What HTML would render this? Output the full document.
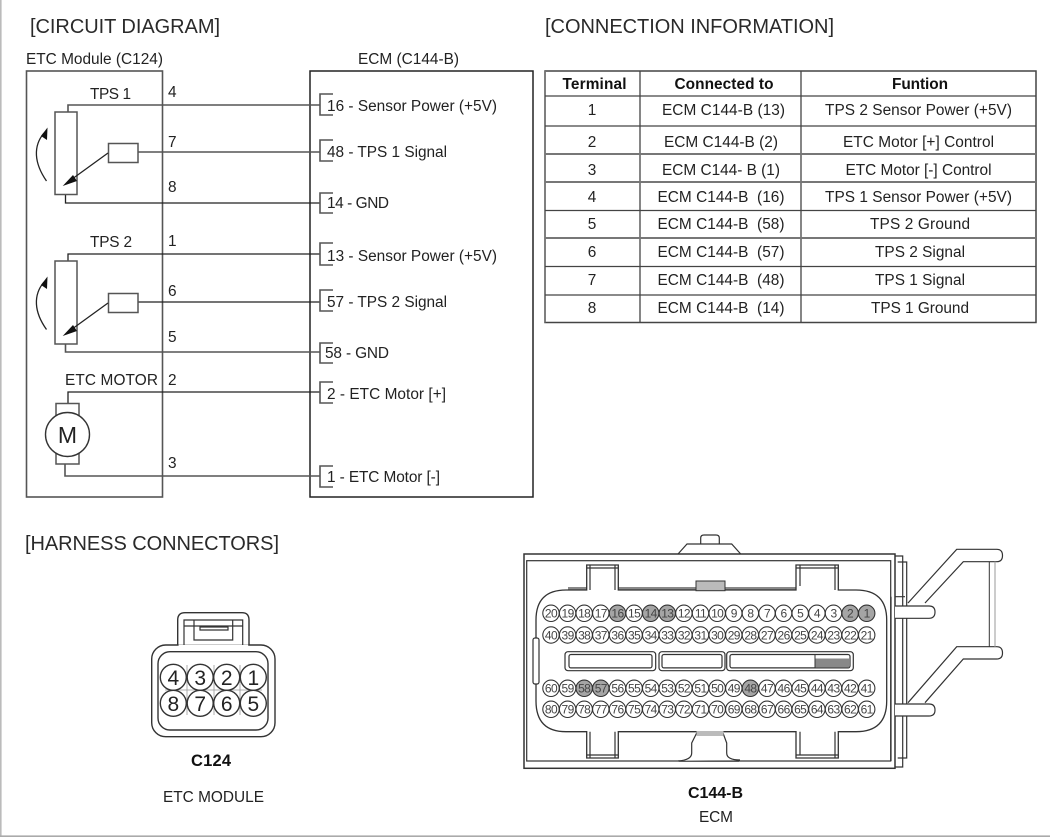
<!DOCTYPE html>
<html lang="en">
<head>
<meta charset="utf-8">
<title>ETC Circuit Diagram</title>
<style>
html,body{margin:0;padding:0;background:#fff;width:1050px;height:837px;overflow:hidden}
svg{display:block;filter:blur(.35px)}
text{font-family:"Liberation Sans",Arial,sans-serif;fill:#222}
.t{font-size:15.4px}
.h{font-size:20px;fill:#2a2a2a}
.c{text-anchor:middle}
.b{font-weight:bold;fill:#111}
.w{fill:none;stroke:#222;stroke-width:1.3}
.g{fill:none;stroke:#555;stroke-width:1.6}
.s{fill:#fff;stroke:#555;stroke-width:1.5}
.p circle{fill:#fff;stroke:#333;stroke-width:1.1}
.p circle.d{fill:#a5a5a5}
.p text{font-size:12px;letter-spacing:-.6px;text-anchor:middle;fill:#444;transform:translateY(.6px)}
.cn{fill:none;stroke:#333;stroke-width:1.2}
.cf{fill:#fff;stroke:#333;stroke-width:1.2}
</style>
</head>
<body>
<svg width="1050" height="837" viewBox="0 0 1050 837" xmlns="http://www.w3.org/2000/svg">
<rect x="0" y="0" width="1.6" height="837" fill="#bbb"/>
<rect x="0" y="835.4" width="1050" height="1.6" fill="#aaa"/>

<text class="h" x="30" y="33" textLength="190">[CIRCUIT DIAGRAM]</text>
<text class="h" x="545" y="33" textLength="289">[CONNECTION INFORMATION]</text>
<text class="h" x="25" y="550" textLength="254">[HARNESS CONNECTORS]</text>

<text class="t" x="26" y="64" textLength="137">ETC Module (C124)</text>
<text class="t" x="358" y="64" textLength="101">ECM (C144-B)</text>

<rect x="26.5" y="71" width="136" height="426" class="g" stroke="#444"/>
<rect x="310" y="71" width="223" height="426" class="w" style="stroke-width:1.5"/>

<!-- wires -->
<path class="g" d="M68 112V105H320"/>
<path class="w" d="M65.5 195V203H320"/>
<path class="g" d="M138 152H320"/>
<path class="w" d="M68 261V254H320"/>
<path class="g" d="M65.5 344V352H320"/>
<path class="w" d="M138 302H320"/>
<path class="w" d="M68 403V392H320"/>
<path class="g" d="M65 464V476H320"/>

<!-- ECM brackets -->
<g class="g">
<path d="M333 94H320V115H333"/>
<path d="M333 140H320V161H333"/>
<path d="M333 193H320V213H333"/>
<path d="M333 243H320V265H333"/>
<path d="M333 290H320V311H333"/>
<path d="M333 343H320V363H333"/>
<path d="M333 382H320V403H333"/>
<path d="M333 466H320V487H333"/>
</g>

<text class="t" x="327" y="111" textLength="170">16 - Sensor Power (+5V)</text>
<text class="t" x="327" y="157" textLength="120">48 - TPS 1 Signal</text>
<text class="t" x="327" y="208" textLength="62">14 - GND</text>
<text class="t" x="327" y="261" textLength="170">13 - Sensor Power (+5V)</text>
<text class="t" x="327" y="307" textLength="120">57 - TPS 2 Signal</text>
<text class="t" x="325" y="358" textLength="64">58 - GND</text>
<text class="t" x="327" y="399" textLength="119">2 - ETC Motor [+]</text>
<text class="t" x="327" y="482" textLength="113">1 - ETC Motor [-]</text>

<text class="t" x="168" y="97">4</text>
<text class="t" x="168" y="147">7</text>
<text class="t" x="168" y="192">8</text>
<text class="t" x="168" y="246">1</text>
<text class="t" x="168" y="296">6</text>
<text class="t" x="168" y="342">5</text>
<text class="t" x="168" y="385">2</text>
<text class="t" x="168" y="468">3</text>

<text class="t" x="90" y="99" textLength="41">TPS 1</text>
<text class="t" x="90" y="247" textLength="42">TPS 2</text>
<text class="t" x="65" y="385" textLength="93">ETC MOTOR</text>

<!-- TPS 1 -->
<rect x="55" y="112" width="22" height="82.5" class="s"/>
<rect x="108.5" y="143.5" width="29.5" height="19" class="s"/>
<path class="w" d="M108 153L68 182"/>
<path d="M62.7 186L73 175L77 181Z" fill="#111"/>
<path class="w" d="M46.5 181C34 163 33 146 44 133"/>
<path d="M47.5 127.5L47 140L41 136Z" fill="#111"/>

<!-- TPS 2 -->
<rect x="55" y="261" width="22" height="83" class="s"/>
<rect x="108.5" y="293.5" width="29.5" height="19" class="s"/>
<path class="w" d="M108 303L68 332"/>
<path d="M62.7 336L73 325L77 331Z" fill="#111"/>
<path class="w" d="M46.5 329.5C34 312 33 295 44 282"/>
<path d="M47.5 276.5L47 289L41 285Z" fill="#111"/>

<!-- Motor -->
<rect x="56" y="403.5" width="23" height="12" class="s"/>
<rect x="56" y="452" width="23" height="12" class="s"/>
<circle cx="67.5" cy="434.5" r="22" fill="#fff" stroke="#333" stroke-width="1.4"/>
<text x="67.5" y="443" font-size="23" class="c">M</text>

<!-- Table -->
<g fill="none">
<path stroke="#444" stroke-width="1.5" d="M545 71H1036V322.5H545Z"/>
<path stroke="#777" stroke-width="1.6" d="M545 71V322.5"/>
<path stroke="#444" stroke-width="1.3" d="M640 71V322.5M801 71V322.5"/>
<path stroke="#444" stroke-width="1.3" d="M545 96H1036M545 126H1036M545 210.5H1036M545 266.5H1036M545 295H1036"/>
<path stroke="#777" stroke-width="2" d="M545 154H1036M545 182H1036M545 238H1036"/>
</g>
<text class="t b c" x="594.5" y="89" textLength="64">Terminal</text>
<text class="t b c" x="724" y="89" textLength="99">Connected to</text>
<text class="t b c" x="920" y="89" textLength="56">Funtion</text>

<text class="t c" x="592" y="115">1</text>
<text class="t c" x="592" y="147">2</text>
<text class="t c" x="592" y="175">3</text>
<text class="t c" x="592" y="202">4</text>
<text class="t c" x="592" y="229">5</text>
<text class="t c" x="592" y="257">6</text>
<text class="t c" x="592" y="285">7</text>
<text class="t c" x="592" y="313">8</text>

<text class="t c" x="723.5" y="115" textLength="123">ECM C144-B (13)</text>
<text class="t c" x="721" y="147" textLength="114">ECM C144-B (2)</text>
<text class="t c" x="721" y="175" textLength="118">ECM C144- B (1)</text>
<text class="t c" x="721" y="202" textLength="127">ECM C144-B&#160; (16)</text>
<text class="t c" x="721" y="229" textLength="127">ECM C144-B&#160; (58)</text>
<text class="t c" x="721" y="257" textLength="127">ECM C144-B&#160; (57)</text>
<text class="t c" x="721" y="285" textLength="127">ECM C144-B&#160; (48)</text>
<text class="t c" x="721" y="313" textLength="127">ECM C144-B&#160; (14)</text>

<text class="t c" x="918.5" y="115" textLength="187">TPS 2 Sensor Power (+5V)</text>
<text class="t c" x="918.5" y="147" textLength="151">ETC Motor [+] Control</text>
<text class="t c" x="918.5" y="175" textLength="146">ETC Motor [-] Control</text>
<text class="t c" x="918.5" y="202" textLength="187">TPS 1 Sensor Power (+5V)</text>
<text class="t c" x="920" y="229" textLength="100">TPS 2 Ground</text>
<text class="t c" x="920" y="257" textLength="90">TPS 2 Signal</text>
<text class="t c" x="920" y="285" textLength="90">TPS 1 Signal</text>
<text class="t c" x="920" y="313" textLength="98">TPS 1 Ground</text>

<!-- C124 connector -->
<g>
<path class="cf" style="stroke-width:1.4" d="M177.7 645V620Q177.7 612.7 185 612.7H242Q249 612.7 249 620V645"/>
<rect x="151.7" y="645" width="123.3" height="91.7" rx="14" class="cf" style="stroke-width:1.4"/>
<path d="M178.6 645.5H248.2" stroke="#fff" stroke-width="2"/>
<rect x="158" y="651.7" width="110" height="78.3" rx="12" class="cn" style="stroke-width:1.4"/>
<path class="cn" d="M184 645V620H242.7V645M184 626H242.7M194 620V640H232.7V620M200 630V627H228V630Z"/>
<path stroke="#999" stroke-width=".8" d="M187 665V715M214 665V715M240 665V715M165 690H262"/>
<g fill="#fff" stroke="#333" stroke-width="1.4">
<circle cx="173.3" cy="677.3" r="13"/><circle cx="200.2" cy="677.3" r="13"/><circle cx="226.7" cy="677.3" r="13"/><circle cx="253.3" cy="677.3" r="13"/>
<circle cx="173.3" cy="703.3" r="13"/><circle cx="200.2" cy="703.3" r="13"/><circle cx="226.7" cy="703.3" r="13"/><circle cx="253.3" cy="703.3" r="13"/>
</g>
<text class="c" font-size="21" x="173.3" y="685">4</text><text class="c" font-size="21" x="200.2" y="685">3</text><text class="c" font-size="21" x="226.7" y="685">2</text><text class="c" font-size="21" x="253.3" y="685">1</text>
<text class="c" font-size="21" x="173.3" y="711">8</text><text class="c" font-size="21" x="200.2" y="711">7</text><text class="c" font-size="21" x="226.7" y="711">6</text><text class="c" font-size="21" x="253.3" y="711">5</text>
</g>
<text class="b c" font-size="16.5" x="211" y="766" textLength="40">C124</text>
<text class="t c" x="213.5" y="802" textLength="101">ETC MODULE</text>
<text class="b c" font-size="16" x="715.5" y="798" textLength="55">C144-B</text>
<text class="t c" x="716" y="822" textLength="34">ECM</text>

<!-- C144-B connector -->
<g>
<path class="cn" d="M700.7 544V538Q700.7 535 704 535H716Q719.3 535 719.3 538V544"/>
<path class="cn" d="M678 554L687 544H731.7L740.7 554"/>
<rect x="524" y="554" width="371" height="214.3" class="cf" style="stroke-width:1.5"/>
<rect x="526.7" y="560.7" width="364" height="200.3" class="cn"/>
<path class="cn" d="M895 556H902.7V767H895M897.7 562H906.7V758H897.7"/>
<path class="cn" d="M895 596.7H905M891 596.7V761"/>
<!-- shroud -->
<path stroke="#888" stroke-width="3" fill="none" d="M568 588.5H586.7M618.3 588.5H696M725 588.5H796"/>
<path class="cn" style="stroke-width:1.3" d="M566 590H586.7V565H618.3V590H796V565H838.3V590H856Q886.7 590 886.7 620V701Q886.7 731.7 856 731.7H838.3V758H796V731.7H618.3V758H586.7V731.7H566Q536 731.7 536 701V620Q536 590 566 590Z"/>
<path class="cf" d="M678 761Q691.7 760 691.7 753V743L696.7 733H723L726.7 743V753Q726.7 760 740 760"/>
<rect x="696.5" y="731" width="27" height="5" fill="#bbb"/>
<path d="M679 761.2H739" stroke="#333" stroke-width="1"/>
<path class="cn" d="M590 565V590M615 565V590M800 565V586M835 565V590M590 731.7V758M615 731.7V758M800 731.7V755M835 731.7V758M586.7 755H618.3M796 755H838.3M586.7 568H618.3M796 568H838.3"/>
<rect x="696" y="581" width="29" height="9.7" fill="#bbb" stroke="#333"/>
<rect x="533" y="638" width="6" height="46" rx="2" class="cf"/>
<!-- latches -->
<path class="cf" d="M908 603L956.7 549.3H996.7Q1002.5 549.3 1002.5 555.5Q1002.5 561.7 996.7 561.7H963.3L925 603"/>
<path class="cf" d="M908 702.7L956.7 646.7H996.7Q1002.5 646.7 1002.5 653Q1002.5 659 996.7 659H963.3L925 702.7"/>
<path stroke="#333" fill="none" d="M989.3 561.7V646.7"/>
<path stroke="#aaa" fill="none" stroke-width="1.2" d="M995 561.7V646.7"/>
<path class="cf" d="M895 606H929Q935 606 935 612Q935 618.3 929 618.3H895"/>
<path class="cf" d="M895 704H929Q935 704 935 710Q935 716 929 716H895"/>
<!-- slots -->
<g class="cn">
<rect x="565" y="651.7" width="90.7" height="19" rx="3" fill="#fff"/>
<rect x="569" y="654.5" width="83" height="13.4" rx="2"/>
<rect x="659" y="651.7" width="66" height="19" rx="3" fill="#fff"/>
<rect x="662" y="654.5" width="60" height="13.4" rx="2"/>
<rect x="726.7" y="651.7" width="126.6" height="19" rx="3" fill="#fff"/>
<rect x="730" y="654.5" width="120" height="13.4" rx="2"/>
</g>
<rect x="815" y="658.5" width="34" height="9" fill="#888"/>
<path d="M815 655V668" stroke="#333" stroke-width="1"/>
<!-- pins row 1 -->
<g class="p">
<circle cx="551" cy="613.3" r="8.2"/><text x="551" y="617">20</text>
<circle cx="567.6" cy="613.3" r="8.2"/><text x="567.6" y="617">19</text>
<circle cx="584.2" cy="613.3" r="8.2"/><text x="584.2" y="617">18</text>
<circle cx="600.8" cy="613.3" r="8.2"/><text x="600.8" y="617">17</text>
<circle class="d" cx="617.5" cy="613.3" r="8.2"/><text x="617.5" y="617">16</text>
<circle cx="634.1" cy="613.3" r="8.2"/><text x="634.1" y="617">15</text>
<circle class="d" cx="650.7" cy="613.3" r="8.2"/><text x="650.7" y="617">14</text>
<circle class="d" cx="667.3" cy="613.3" r="8.2"/><text x="667.3" y="617">13</text>
<circle cx="683.9" cy="613.3" r="8.2"/><text x="683.9" y="617">12</text>
<circle cx="700.5" cy="613.3" r="8.2"/><text x="700.5" y="617">11</text>
<circle cx="717.2" cy="613.3" r="8.2"/><text x="717.2" y="617">10</text>
<circle cx="733.8" cy="613.3" r="8.2"/><text x="733.8" y="617">9</text>
<circle cx="750.4" cy="613.3" r="8.2"/><text x="750.4" y="617">8</text>
<circle cx="767" cy="613.3" r="8.2"/><text x="767" y="617">7</text>
<circle cx="783.6" cy="613.3" r="8.2"/><text x="783.6" y="617">6</text>
<circle cx="800.2" cy="613.3" r="8.2"/><text x="800.2" y="617">5</text>
<circle cx="816.9" cy="613.3" r="8.2"/><text x="816.9" y="617">4</text>
<circle cx="833.5" cy="613.3" r="8.2"/><text x="833.5" y="617">3</text>
<circle class="d" cx="850.1" cy="613.3" r="8.2"/><text x="850.1" y="617">2</text>
<circle class="d" cx="866.7" cy="613.3" r="8.2"/><text x="866.7" y="617">1</text>
</g>
<!-- pins row 2 -->
<g class="p">
<circle cx="551" cy="635" r="8.2"/><text x="551" y="638.7">40</text>
<circle cx="567.6" cy="635" r="8.2"/><text x="567.6" y="638.7">39</text>
<circle cx="584.2" cy="635" r="8.2"/><text x="584.2" y="638.7">38</text>
<circle cx="600.8" cy="635" r="8.2"/><text x="600.8" y="638.7">37</text>
<circle cx="617.5" cy="635" r="8.2"/><text x="617.5" y="638.7">36</text>
<circle cx="634.1" cy="635" r="8.2"/><text x="634.1" y="638.7">35</text>
<circle cx="650.7" cy="635" r="8.2"/><text x="650.7" y="638.7">34</text>
<circle cx="667.3" cy="635" r="8.2"/><text x="667.3" y="638.7">33</text>
<circle cx="683.9" cy="635" r="8.2"/><text x="683.9" y="638.7">32</text>
<circle cx="700.5" cy="635" r="8.2"/><text x="700.5" y="638.7">31</text>
<circle cx="717.2" cy="635" r="8.2"/><text x="717.2" y="638.7">30</text>
<circle cx="733.8" cy="635" r="8.2"/><text x="733.8" y="638.7">29</text>
<circle cx="750.4" cy="635" r="8.2"/><text x="750.4" y="638.7">28</text>
<circle cx="767" cy="635" r="8.2"/><text x="767" y="638.7">27</text>
<circle cx="783.6" cy="635" r="8.2"/><text x="783.6" y="638.7">26</text>
<circle cx="800.2" cy="635" r="8.2"/><text x="800.2" y="638.7">25</text>
<circle cx="816.9" cy="635" r="8.2"/><text x="816.9" y="638.7">24</text>
<circle cx="833.5" cy="635" r="8.2"/><text x="833.5" y="638.7">23</text>
<circle cx="850.1" cy="635" r="8.2"/><text x="850.1" y="638.7">22</text>
<circle cx="866.7" cy="635" r="8.2"/><text x="866.7" y="638.7">21</text>
</g>
<!-- pins row 3 -->
<g class="p">
<circle cx="551" cy="688.3" r="8.2"/><text x="551" y="692">60</text>
<circle cx="567.6" cy="688.3" r="8.2"/><text x="567.6" y="692">59</text>
<circle class="d" cx="584.2" cy="688.3" r="8.2"/><text x="584.2" y="692">58</text>
<circle class="d" cx="600.8" cy="688.3" r="8.2"/><text x="600.8" y="692">57</text>
<circle cx="617.5" cy="688.3" r="8.2"/><text x="617.5" y="692">56</text>
<circle cx="634.1" cy="688.3" r="8.2"/><text x="634.1" y="692">55</text>
<circle cx="650.7" cy="688.3" r="8.2"/><text x="650.7" y="692">54</text>
<circle cx="667.3" cy="688.3" r="8.2"/><text x="667.3" y="692">53</text>
<circle cx="683.9" cy="688.3" r="8.2"/><text x="683.9" y="692">52</text>
<circle cx="700.5" cy="688.3" r="8.2"/><text x="700.5" y="692">51</text>
<circle cx="717.2" cy="688.3" r="8.2"/><text x="717.2" y="692">50</text>
<circle cx="733.8" cy="688.3" r="8.2"/><text x="733.8" y="692">49</text>
<circle class="d" cx="750.4" cy="688.3" r="8.2"/><text x="750.4" y="692">48</text>
<circle cx="767" cy="688.3" r="8.2"/><text x="767" y="692">47</text>
<circle cx="783.6" cy="688.3" r="8.2"/><text x="783.6" y="692">46</text>
<circle cx="800.2" cy="688.3" r="8.2"/><text x="800.2" y="692">45</text>
<circle cx="816.9" cy="688.3" r="8.2"/><text x="816.9" y="692">44</text>
<circle cx="833.5" cy="688.3" r="8.2"/><text x="833.5" y="692">43</text>
<circle cx="850.1" cy="688.3" r="8.2"/><text x="850.1" y="692">42</text>
<circle cx="866.7" cy="688.3" r="8.2"/><text x="866.7" y="692">41</text>
</g>
<!-- pins row 4 -->
<g class="p">
<circle cx="551" cy="709.3" r="8.2"/><text x="551" y="713">80</text>
<circle cx="567.6" cy="709.3" r="8.2"/><text x="567.6" y="713">79</text>
<circle cx="584.2" cy="709.3" r="8.2"/><text x="584.2" y="713">78</text>
<circle cx="600.8" cy="709.3" r="8.2"/><text x="600.8" y="713">77</text>
<circle cx="617.5" cy="709.3" r="8.2"/><text x="617.5" y="713">76</text>
<circle cx="634.1" cy="709.3" r="8.2"/><text x="634.1" y="713">75</text>
<circle cx="650.7" cy="709.3" r="8.2"/><text x="650.7" y="713">74</text>
<circle cx="667.3" cy="709.3" r="8.2"/><text x="667.3" y="713">73</text>
<circle cx="683.9" cy="709.3" r="8.2"/><text x="683.9" y="713">72</text>
<circle cx="700.5" cy="709.3" r="8.2"/><text x="700.5" y="713">71</text>
<circle cx="717.2" cy="709.3" r="8.2"/><text x="717.2" y="713">70</text>
<circle cx="733.8" cy="709.3" r="8.2"/><text x="733.8" y="713">69</text>
<circle cx="750.4" cy="709.3" r="8.2"/><text x="750.4" y="713">68</text>
<circle cx="767" cy="709.3" r="8.2"/><text x="767" y="713">67</text>
<circle cx="783.6" cy="709.3" r="8.2"/><text x="783.6" y="713">66</text>
<circle cx="800.2" cy="709.3" r="8.2"/><text x="800.2" y="713">65</text>
<circle cx="816.9" cy="709.3" r="8.2"/><text x="816.9" y="713">64</text>
<circle cx="833.5" cy="709.3" r="8.2"/><text x="833.5" y="713">63</text>
<circle cx="850.1" cy="709.3" r="8.2"/><text x="850.1" y="713">62</text>
<circle cx="866.7" cy="709.3" r="8.2"/><text x="866.7" y="713">61</text>
</g>
</g>
</svg>
</body>
</html>
